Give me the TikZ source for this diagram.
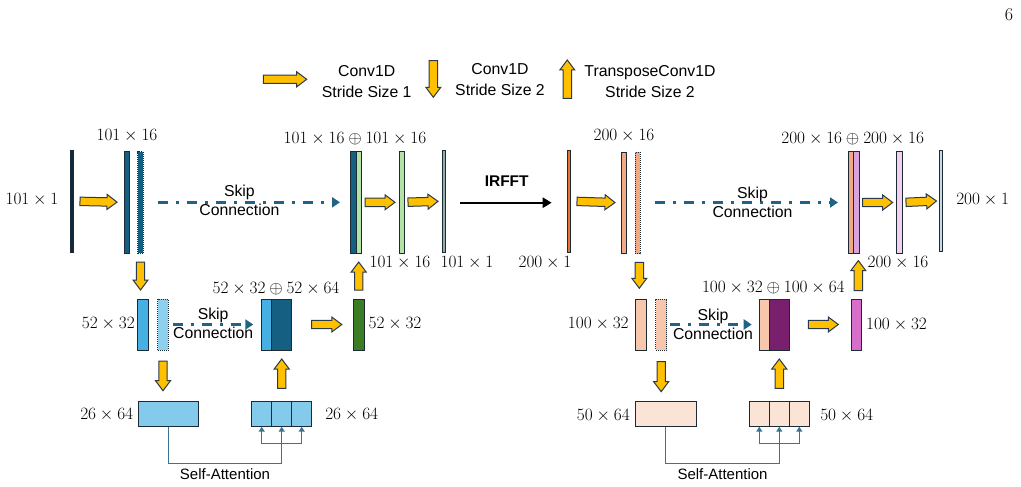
\documentclass[tikz,border=0pt]{standalone}
\usepackage{fontspec}
\newfontfamily\diagsans{Liberation Sans}
\usetikzlibrary{arrows.meta,calc}

\definecolor{barline}{HTML}{1C2A36}
\definecolor{navybar}{HTML}{0E2841}
\definecolor{encblue}{HTML}{156082}
\definecolor{skyblue}{HTML}{45B0E1}
\definecolor{skylight}{HTML}{8FD0EE}
\definecolor{skypale}{HTML}{83CAEB}
\definecolor{greenlight}{HTML}{B5E3A3}
\definecolor{greengrey}{HTML}{93ADA8}
\definecolor{greendark}{HTML}{3B7D23}
\definecolor{orangebar}{HTML}{E97132}
\definecolor{salmon}{HTML}{F1A983}
\definecolor{peach}{HTML}{F6C6AD}
\definecolor{peachpale}{HTML}{FBE3D6}
\definecolor{plumbar}{HTML}{78206E}
\definecolor{orchid}{HTML}{D86ECC}
\definecolor{violetlight}{HTML}{D9A4DD}
\definecolor{pinklight}{HTML}{F2D0EE}
\definecolor{bluegrey}{HTML}{C9D9E8}
\definecolor{arrowfill}{HTML}{FFC000}
\definecolor{arrowedge}{HTML}{2B3A4A}
\definecolor{skipblue}{HTML}{1F6386}
\definecolor{attblue}{HTML}{3A7395}

\tikzset{
	bar/.style={rectangle, draw=barline, line width=0.8pt, inner sep=0pt, outer sep=0pt},
	tallbar/.style={bar, minimum height=101.5pt},
	midbar/.style={bar, minimum height=51pt},
	lowbox/.style={bar, minimum height=25pt},
	dotbar/.style={dash pattern=on 1pt off 1pt},
	dimlabel/.style={font=\fontsize{17.2}{19}\selectfont, inner sep=1pt},
	sanslabel/.style={font=\diagsans\fontsize{15.8}{18.4}\selectfont, align=center, inner sep=0pt},
	skipline/.style={draw=skipblue, line width=2.5pt, dash pattern=on 10pt off 8pt on 3pt off 8pt, -{Triangle[length=8pt,width=10pt]}},
	attline/.style={draw=attblue, line width=1.3pt},
	fatarrow/.style 2 args={draw=arrowedge, fill=arrowfill, line width=1pt, line join=miter,
		to path={let \p1=($(\tikztostart)!#1pt!(\tikztotarget)$), \p2=($(\tikztotarget)!#2pt!(\tikztostart)$),
			\n1={atan2(\y2-\y1,\x2-\x1)} in
			($(\p1)+(\n1+90:4.2pt)$) -- ($(\p2)+(\n1:-10pt)+(\n1+90:4.2pt)$) -- ($(\p2)+(\n1:-10pt)+(\n1+90:7.5pt)$)
			-- (\p2) -- ($(\p2)+(\n1:-10pt)+(\n1-90:7.5pt)$) -- ($(\p2)+(\n1:-10pt)+(\n1-90:4.2pt)$)
			-- ($(\p1)+(\n1-90:4.2pt)$) -- cycle}}
}

\begin{document}
\begin{tikzpicture}[x=1pt, y=-1pt]
	\useasboundingbox (0,0) rectangle (1021,487);
	\node[font=\fontsize{18}{20}\selectfont, inner sep=0pt] (pagenum) at (1009,15) {6};

	% legend
	\coordinate (lga) at (263.3,79.3); \coordinate (lgb) at (306.7,79.3);
	\coordinate (lgc) at (433.3,60.7); \coordinate (lgd) at (433.3,97.3);
	\coordinate (lge) at (567.3,98.3); \coordinate (lgf) at (567.3,60);
	\draw[fatarrow={0}{0}] (lga) to (lgb);
	\draw[fatarrow={0}{0}] (lgc) to (lgd);
	\draw[fatarrow={0}{0}] (lge) to (lgf);
	\node[sanslabel, font=\diagsans\fontsize{15.8}{21}\selectfont] (lgtxa) at (366.7,81.2) {Conv1D\\Stride Size 1};
	\node[sanslabel, font=\diagsans\fontsize{15.8}{21}\selectfont] (lgtxb) at (500,79.2) {Conv1D\\Stride Size 2};
	\node[sanslabel, font=\diagsans\fontsize{15.8}{21}\selectfont] (lgtxc) at (650,81.2) {TransposeConv1D\\Stride Size 2};

	% first U-Net: top row
	\node[tallbar, fill=navybar, minimum width=3pt] (in1) at (71.5,201.2) {};
	\node[tallbar, fill=encblue, minimum width=5.3pt] (enc1) at (126.7,202.3) {};
	\node[tallbar, dotbar, fill=encblue, minimum width=5.6pt] (enc1d) at (140.5,202.3) {};
	\node[tallbar, fill=encblue, minimum width=6pt] (cat1a) at (353,202.3) {};
	\node[tallbar, fill=greenlight, minimum width=5.7pt] (cat1b) at (358.85,202.3) {};
	\node[tallbar, fill=greenlight, minimum width=5pt] (dec1) at (401.8,202.3) {};
	\node[tallbar, fill=greengrey, minimum width=3.4pt] (out1) at (444,201.2) {};
	\node[dimlabel] at (32,200) {$101\times1$};
	\node[dimlabel] at (127,136) {$101\times16$};
	\node[dimlabel] at (355,139) {$101\times16\oplus101\times16$};
	\node[dimlabel] at (400,263) {$101\times16$};
	\node[dimlabel] at (467,263) {$101\times1$};

	% first U-Net: middle and bottom
	\node[midbar, fill=skyblue, minimum width=10.6pt] (mid1) at (143,324.5) {};
	\node[midbar, dotbar, fill=skylight, minimum width=10.6pt] (mid1d) at (163,324.5) {};
	\node[midbar, fill=skyblue, minimum width=10pt] (cat3a) at (266.7,324.5) {};
	\node[midbar, fill=encblue, minimum width=20pt] (cat3b) at (281.7,324.5) {};
	\node[midbar, fill=greendark, minimum width=10.7pt] (g1) at (358.7,324.5) {};
	\node[lowbox, fill=skypale, minimum width=60pt] (att1) at (168.3,414.2) {};
	\foreach \n/\x in {q1a/261.7,q1b/281.7,q1c/301.7}
		\node[lowbox, fill=skypale, minimum width=20pt] (\n) at (\x,414.2) {};
	\node[dimlabel] at (108.3,324) {$52\times32$};
	\node[dimlabel] at (276,288.3) {$52\times32\oplus52\times64$};
	\node[dimlabel] at (395,324) {$52\times32$};
	\node[dimlabel] at (106.7,415) {$26\times64$};
	\node[dimlabel] at (351.7,415) {$26\times64$};

	% second U-Net: top row
	\node[tallbar, fill=orangebar, minimum width=3pt] (in2) at (569.2,201.2) {};
	\node[tallbar, fill=salmon, minimum width=5pt] (enc2) at (624.2,202.8) {};
	\node[tallbar, dotbar, fill=salmon, minimum width=5pt] (enc2d) at (637.5,202.8) {};
	\node[tallbar, fill=salmon, minimum width=5.4pt] (cat2a) at (851,202.5) {};
	\node[tallbar, fill=violetlight, minimum width=5.3pt] (cat2b) at (856.35,202.5) {};
	\node[tallbar, fill=pinklight, minimum width=5.6pt] (dec2) at (899.5,202.5) {};
	\node[tallbar, fill=bluegrey, minimum width=3pt] (out2) at (941.3,200.8) {};
	\node[dimlabel] at (545,263) {$200\times1$};
	\node[dimlabel] at (624,136) {$200\times16$};
	\node[dimlabel] at (852.7,139) {$200\times16\oplus200\times16$};
	\node[dimlabel] at (898,263) {$200\times16$};
	\node[dimlabel] at (982.7,200) {$200\times1$};

	% second U-Net: middle and bottom
	\node[midbar, fill=peach, minimum width=10.3pt] (mid2) at (640.8,324.5) {};
	\node[midbar, dotbar, fill=peach, minimum width=11pt] (mid2d) at (661.2,324.5) {};
	\node[midbar, fill=peach, minimum width=10pt] (cat4a) at (764.3,324.5) {};
	\node[midbar, fill=plumbar, minimum width=20pt] (cat4b) at (779.3,324.5) {};
	\node[midbar, fill=orchid, minimum width=10pt] (p1) at (856.7,324.5) {};
	\node[lowbox, fill=peachpale, minimum width=60.3pt] (att2) at (665.8,414.2) {};
	\foreach \n/\x in {q2a/759.3,q2b/779.3,q2c/799.3}
		\node[lowbox, fill=peachpale, minimum width=20pt] (\n) at (\x,414.2) {};
	\node[dimlabel] at (598.3,323.5) {$100\times32$};
	\node[dimlabel] at (773.3,287.5) {$100\times32\oplus100\times64$};
	\node[dimlabel] at (896.5,325) {$100\times32$};
	\node[dimlabel] at (603.3,416) {$50\times64$};
	\node[dimlabel] at (846.7,416) {$50\times64$};

	% orange conv arrows
	\draw[fatarrow={7}{7}] (in1.east) to (enc1.west);
	\draw[fatarrow={3.3}{4.3}] (cat1b.east) to (dec1.west);
	\draw[fatarrow={3.7}{4.3}] (dec1.east) to (out1.west);
	\draw[fatarrow={9}{9}] (enc1d.south) to (enc1d.south |- mid1.north);
	\draw[fatarrow={11}{11}] (mid1d.south) to (mid1d.south |- att1.north);
	\draw[fatarrow={13.4}{9}] (q1b.north) to (cat3b.south);
	\draw[fatarrow={9}{9}] (g1.north) to (g1.north |- cat1b.south);
	\draw[fatarrow={20}{11.6}] (cat3b.east) to (g1.west);
	\draw[fatarrow={6.3}{6.7}] (in2.east) to (enc2.west);
	\draw[fatarrow={3.7}{4}] (cat2b.east) to (dec2.west);
	\draw[fatarrow={3.7}{3.3}] (dec2.east) to (out2.west);
	\draw[fatarrow={8.7}{10.7}] ($(enc2d.south)+(1.8,0)$) to ($(enc2d.south |- mid2.north)+(1.8,0)$);
	\draw[fatarrow={11.7}{10}] (mid2d.south) to (mid2d.south |- att2.north);
	\draw[fatarrow={13.4}{9}] (q2b.north) to (cat4b.south);
	\draw[fatarrow={8.3}{7.4}] ($(p1.north)+(1.6,0)$) to ($(p1.north |- cat2b.south)+(1.6,0)$);
	\draw[fatarrow={19}{13.4}] (cat4b.east) to (p1.west);

	% skip connections
	\draw[skipline, shorten <=14.7pt, shorten >=10pt] (enc1d.east) -- (cat1a.west)
		node[sanslabel, pos=0.465, yshift=2pt] {Skip\\Connection};
	\draw[skipline, shorten <=4.4pt, shorten >=8.4pt] (mid1d.east) -- (cat3a.west)
		node[sanslabel, pos=0.48, yshift=1pt] {Skip\\Connection};
	\draw[skipline, shorten <=15pt, shorten >=10.3pt] (enc2d.east |- cat2a.west) -- (cat2a.west)
		node[sanslabel, pos=0.54] {Skip\\Connection};
	\draw[skipline, shorten <=3.3pt, shorten >=7.6pt] (mid2d.east) -- (cat4a.west)
		node[sanslabel, pos=0.5] {Skip\\Connection};

	% IRFFT
	\draw[line width=2.4pt, -{Triangle[length=9pt,width=10pt]}, shorten <=14.3pt, shorten >=16pt]
		(out1.east |- 0,202.7) -- (in2.west |- 0,202.7)
		node[midway, above=12pt, font=\diagsans\bfseries\fontsize{15.5}{18}\selectfont] {IRFFT};

	% self-attention
	\coordinate (j1) at (281.7,443.3);
	\coordinate (j2) at (779.3,443.3);
	\draw[attline] (att1.south) -- ++(0,36.6) -| (j1)
		node[pos=0.25, below=1.5pt, font=\diagsans\fontsize{15}{18}\selectfont, text=black] {Self-Attention};
	\draw[attline] (att2.south) -- ++(0,36.6) -| (j2)
		node[pos=0.25, below=1.5pt, font=\diagsans\fontsize{15}{18}\selectfont, text=black] {Self-Attention};
	\foreach \c in {q1a,q1b,q1c}
		\draw[attline, -{Triangle[length=5pt,width=6pt]}] (j1) -| (\c.south);
	\foreach \c in {q2a,q2b,q2c}
		\draw[attline, -{Triangle[length=5pt,width=6pt]}] (j2) -| (\c.south);
\end{tikzpicture}
\end{document}
